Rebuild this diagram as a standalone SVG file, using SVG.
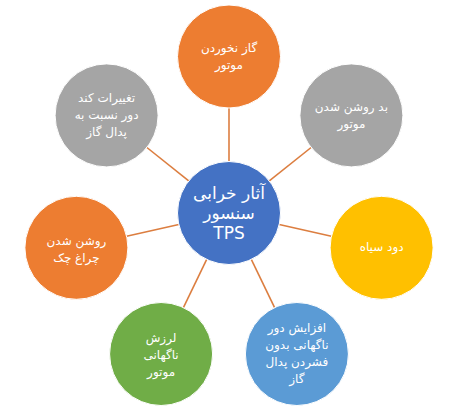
<svg xmlns="http://www.w3.org/2000/svg" width="456" height="419" viewBox="0 0 456 419">
<style>
.n{stroke:#ffffff;stroke-width:1}
.t{fill:#ffffff;font-family:"DejaVu Sans","Noto Sans",sans-serif;font-size:12px;text-anchor:middle}
.c{fill:#ffffff;font-family:"DejaVu Sans","Noto Sans",sans-serif;font-size:17px;text-anchor:middle}
.l{stroke:#DC7E40;stroke-width:1.6;fill:none}
</style>
<rect width="456" height="419" fill="#ffffff"/>
<g id="connectors">
<line class="l" x1="229" y1="161.5" x2="229" y2="108"/>
<line class="l" x1="269.3" y1="180.9" x2="311.1" y2="147.5"/>
<line class="l" x1="279.2" y1="224.5" x2="331.4" y2="236.3"/>
<line class="l" x1="251.3" y1="259.4" x2="274.6" y2="307.6"/>
<line class="l" x1="206.7" y1="259.4" x2="183.4" y2="307.6"/>
<line class="l" x1="178.8" y1="224.5" x2="126.6" y2="236.3"/>
<line class="l" x1="188.7" y1="180.9" x2="146.9" y2="147.5"/>
</g>
<g id="center">
<circle class="n" cx="229" cy="213" r="51.5" fill="#4472C4"/>
<text class="c" x="229" y="199">آثار خرابی</text>
<text class="c" x="229" y="219">سنسور</text>
<text class="c" x="229" y="239">TPS</text>
</g>
<g id="n0">
<circle class="n" cx="229" cy="56.5" r="51.5" fill="#ED7D31"/>
<text class="t" x="229" y="52">گاز نخوردن</text>
<text class="t" x="229" y="69">موتور</text>
</g>
<g id="n1">
<circle class="n" cx="351.4" cy="115.4" r="51.5" fill="#A5A5A5"/>
<text class="t" x="351.4" y="111">بد روشن شدن</text>
<text class="t" x="351.4" y="128">موتور</text>
</g>
<g id="n2">
<circle class="n" cx="381.6" cy="247.8" r="51.5" fill="#FFC000"/>
<text class="t" x="381.6" y="251">دود سیاه</text>
</g>
<g id="n3">
<circle class="n" cx="296.9" cy="354" r="51.5" fill="#5B9BD5"/>
<text class="t" x="296.9" y="332">افزایش دور</text>
<text class="t" x="296.9" y="349">ناگهانی بدون</text>
<text class="t" x="296.9" y="366">فشردن پدال</text>
<text class="t" x="296.9" y="383">گاز</text>
</g>
<g id="n4">
<circle class="n" cx="161.1" cy="354" r="51.5" fill="#70AD47"/>
<text class="t" x="161.1" y="342">لرزش</text>
<text class="t" x="161.1" y="359">ناگهانی</text>
<text class="t" x="161.1" y="376">موتور</text>
</g>
<g id="n5">
<circle class="n" cx="76.4" cy="247.8" r="51.5" fill="#ED7D31"/>
<text class="t" x="76.4" y="245">روشن شدن</text>
<text class="t" x="76.4" y="262">چراغ چک</text>
</g>
<g id="n6">
<circle class="n" cx="106.6" cy="115.4" r="51.5" fill="#A5A5A5"/>
<text class="t" x="106.6" y="102">تغییرات کند</text>
<text class="t" x="106.6" y="119">دور نسبت به</text>
<text class="t" x="106.6" y="136">پدال گاز</text>
</g>
</svg>
